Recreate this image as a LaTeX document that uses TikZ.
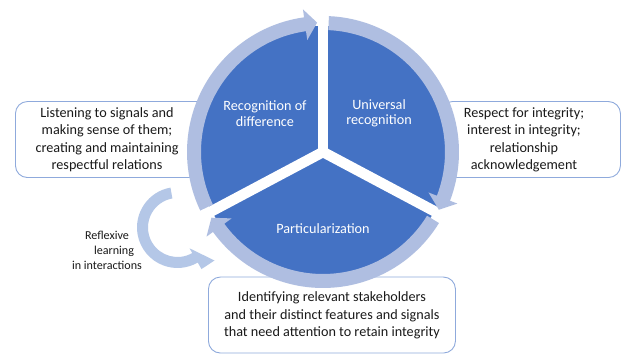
\documentclass[tikz,border=0pt]{standalone}
\usepackage{fontspec}
\setmainfont{Carlito}
\definecolor{pieblue}{HTML}{4472C4}
\definecolor{ringc}{HTML}{AFBEE1}
\definecolor{loopc}{HTML}{B4C7E7}
\definecolor{boxline}{HTML}{8FAADC}
\definecolor{txtc}{HTML}{1A1A1A}
\tikzset{
  box/.style={draw=boxline, line width=0.9pt, fill=white, rounded corners=12pt, inner sep=0pt, anchor=south west},
  txt/.style={text=txtc, align=center, inner sep=0pt, font=\fontsize{14.2}{17.5}\selectfont},
  smalltxt/.style={text=txtc, align=center, inner sep=0pt, font=\fontsize{12.1}{15}\selectfont},
  pietxt/.style={text=white, align=center, inner sep=0pt, font=\fontsize{14.2}{15.5}\selectfont},
  gapline/.style={draw=white, line width=10.5pt},
}
\begin{document}
\begin{tikzpicture}[x=1pt,y=1pt]
\useasboundingbox (0,0) rectangle (622,355);
\fill[white] (0,0) rectangle (622,355);

% boxes
\node[box, minimum width=200pt, minimum height=76pt] (lbox) at (15,177) {};
\node[box, minimum width=180pt, minimum height=76pt] (rbox) at (440,177) {};
\node[box, minimum width=247pt, minimum height=76pt] (bbox) at (208,1.5) {};

% pie
\coordinate (c) at (323,203);
\fill[pieblue] (c) circle (126);
\foreach \a in {90,208,-28} {
  \draw[gapline] (c) -- ++(\a:140);
}

% ring arrows
\begin{scope}[shift={(323,203)}]
  \fill[ringc] (205.5:136) arc[start angle=205.5, end angle=98, radius=136]
    -- (98:144) -- (92.6:129.5) -- (98:113) -- (98:122)
    arc[start angle=98, end angle=205.5, radius=122] -- cycle;
  \fill[ringc] (87.5:136) arc[start angle=87.5, end angle=-21, radius=136]
    -- (-21:144) -- (-26.5:129.5) -- (-21:113) -- (-21:122)
    arc[start angle=-21, end angle=87.5, radius=122] -- cycle;
  \fill[ringc] (-31.5:136) arc[start angle=-31.5, end angle=-144, radius=136]
    -- (-144:144) -- (-149.5:129.5) -- (-144:113) -- (-144:122)
    arc[start angle=-144, end angle=-31.5, radius=122] -- cycle;
\end{scope}

% loop arrow
\begin{scope}[shift={(177.5,127.5)}]
  \fill[loopc] (100:40.5) arc[start angle=100, end angle=300, radius=40.5]
    -- (300:48) -- (37,-33) -- (300:24) -- (300:29.5)
    arc[start angle=300, end angle=100, radius=29.5] -- cycle;
\end{scope}

% texts
\node[txt] (ltxt) at (107,215.5) {Listening to signals and\\making sense of them;\\creating and maintaining\\respectful relations};
\node[txt] (rtxt) at (524,215) {Respect for integrity;\\interest in integrity;\\relationship\\acknowledgement};
\node[txt] (btxt) at (332,39.5) {Identifying relevant stakeholders\\and their distinct features and signals\\that need attention to retain integrity};
\node[smalltxt] (looptxt) at (107,105) {Reflexive\\\hspace*{14pt}learning\\in interactions};
\node[pietxt] (p1) at (265,241.5) {Recognition of\\difference};
\node[pietxt] (p2) at (379,241.5) {Universal\\recognition};
\node[pietxt] (p3) at (323,126) {Particularization};
\end{tikzpicture}
\end{document}
